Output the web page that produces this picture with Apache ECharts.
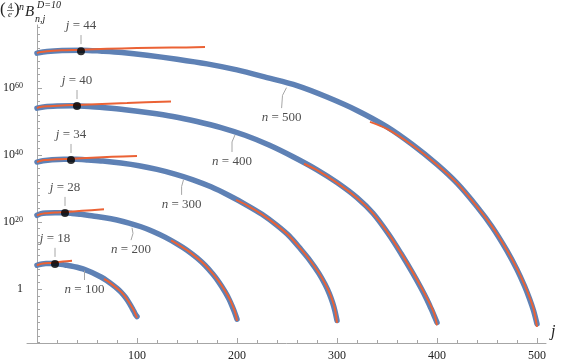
<!DOCTYPE html>
<html lang="en">
<head>
<meta charset="UTF-8">
<title>B n,j</title>
<script src="https://cdn.jsdelivr.net/npm/echarts@6/dist/echarts.min.js"></script>
</head>
<body style="margin:0">
<div id="main" style="width:564px;height:364px;"></div>
<script>
// values are log10 of (4/e)^n B_{n,j}
var xTicks = [100, 200, 300, 400, 500];
var yTicks = [0, 20, 40, 60];

var blue100 = [[0,7.1],[2,7.3],[5,7.5],[9,7.6],[13,7.6],[17,7.6],[22,7.5],[28,7.2],[34,6.9],[40,6.5],[46,6.0],[52,5.3],[58,4.5],[64,3.6],[70,2.5],[75,1.4],[80,0.2],[84,-0.9],[88,-2.3],[91,-3.6],[94,-5.1],[96,-6.2],[97.5,-7.0],[98.5,-7.6],[100,-8.2]];
var blue200 = [[0,22.0],[4,22.5],[10,22.7],[18,22.8],[26,22.8],[34,22.6],[44,22.3],[56,21.8],[68,21.3],[80,20.6],[92,19.7],[104,18.6],[116,17.2],[128,15.5],[140,13.5],[150,11.6],[160,9.3],[168,7.1],[176,4.4],[182,2.0],[188,-0.8],[192,-3.0],[195,-5.0],[197,-6.5],[198.6,-7.8],[200,-9.0]];
var blue300 = [[0,37.9],[6,38.3],[15,38.6],[27,38.7],[39,38.7],[51,38.5],[66,38.2],[84,37.6],[102,36.8],[120,35.7],[138,34.3],[156,32.6],[174,30.5],[192,27.9],[210,25.0],[225,22.3],[240,19.0],[252,15.9],[264,11.8],[273,8.5],[282,4.6],[288,1.4],[292.5,-1.5],[295.5,-4.0],[297.9,-6.5],[300,-9.4]];
var blue400 = [[0,54.0],[8,54.4],[20,54.6],[36,54.7],[52,54.5],[68,54.1],[88,53.5],[112,52.6],[136,51.5],[160,50.0],[184,48.2],[208,45.9],[232,43.0],[256,39.5],[280,35.6],[300,31.8],[320,27.3],[336,22.6],[352,16.2],[364,10.6],[376,4.6],[384,0.3],[390,-3.2],[394,-5.8],[397.2,-8.0],[400,-10.0]];
var blue500 = [[0,70.4],[10,70.9],[25,71.2],[45,71.3],[65,71.0],[85,70.6],[110,69.8],[140,68.6],[170,67.2],[200,65.4],[230,63.1],[260,60.7],[290,57.3],[320,53.3],[350,48.4],[375,43.2],[400,37.2],[420,31.6],[440,24.6],[455,18.6],[470,11.4],[480,5.8],[487.5,0.9],[492.5,-2.9],[496.5,-6.4],[500,-10.4]];

// small-j asymptotics
var orangeStart100 = [[0,7.1],[2,7.35],[6,7.6],[12,7.8],[18,7.95],[26,8.2],[35,8.45]];
var orangeStart200 = [[0,22.0],[3,22.3],[8,22.6],[18,22.85],[28,23.0],[45,23.35],[67,23.8]];
var orangeStart300 = [[0,37.9],[3,38.2],[8,38.5],[20,38.75],[34,38.9],[55,39.2],[75,39.45],[100,39.7]];
var orangeStart400 = [[0,54.0],[3,54.3],[10,54.55],[25,54.8],[40,54.95],[65,55.25],[90,55.5],[134,56.0]];
var orangeStart500 = [[0,70.4],[3,70.7],[10,71.0],[25,71.25],[44,71.4],[70,71.7],[100,71.9],[135,72.05],[168,72.2]];

// j near n asymptotics
var orangeEnd100 = [[67,3.0],[70,2.5],[75,1.4],[80,0.2],[84,-0.8],[88,-2.2],[91,-3.5],[94,-4.9],[96,-5.9],[97.5,-6.8],[98.5,-7.5],[100,-8.6]];
var orangeEnd200 = [[134,14.5],[140,13.5],[150,11.6],[160,9.3],[168,7.2],[176,4.5],[182,2.2],[188,-0.5],[192,-2.6],[195,-4.5],[197,-6.0],[198.6,-7.4],[200,-9.5]];
var orangeEnd300 = [[199,26.6],[210,25.0],[225,22.3],[240,19.0],[252,15.9],[264,11.9],[273,8.6],[282,4.8],[288,1.7],[292.5,-1.1],[295.5,-3.5],[297.9,-5.9],[300,-10.1]];
var orangeEnd400 = [[267,37.4],[280,35.5],[300,31.7],[320,27.2],[336,22.6],[352,16.3],[364,10.8],[376,4.9],[384,0.7],[390,-2.7],[394,-5.1],[397.2,-7.3],[400,-10.8]];
var orangeEnd500 = [[333,49.9],[350,47.8],[375,43.0],[400,37.1],[420,31.6],[440,24.6],[455,18.7],[470,11.6],[480,6.1],[487.5,1.3],[492.5,-2.4],[496.5,-5.8],[500,-11.3]];

var maxJ = [18, 28, 34, 40, 44];
var maxVal = [7.5, 22.7, 38.5, 54.6, 71.0];

var nValues = [100, 200, 300, 400, 500];
var nLeaders = [
    [[47.5,5.5],[47.5,2.7]],
    [[95,18.3],[96,16.6],[94,14.6]],
    [[146.5,32.6],[144.6,30.6],[144.6,28.1]],
    [[198,46.0],[195,43.9],[195,40.9]],
    [[249.5,60.1],[245.5,57.8],[244.6,54.0]]
];

var BLUE = '#5E81B5', ORANGE = '#EB6235', GRAY = '#a6a6a6', TXT = '#222';
var SERIF = '"Liberation Serif", "DejaVu Serif", serif';

var blues = [blue100, blue200, blue300, blue400, blue500];
var oranges = [orangeStart100, orangeStart200, orangeStart300, orangeStart400, orangeStart500,
               orangeEnd100, orangeEnd200, orangeEnd300, orangeEnd400, orangeEnd500];

var xMinor = [], yMinor = [];
for (var t = 20; t <= 500; t += 20) if (t % 100) xMinor.push(t);
for (var u = -16; u <= 78; u += 2) if (u % 20) yMinor.push(u);

var series = [];
blues.forEach(function (d) {
    series.push({ type: 'line', data: d, showSymbol: false, smooth: 0.3, z: 2,
        lineStyle: { color: BLUE, width: 5.5, cap: 'round' } });
});
oranges.forEach(function (d) {
    series.push({ type: 'line', data: d, showSymbol: false, smooth: 0.3, z: 3,
        lineStyle: { color: ORANGE, width: 2 } });
});

// leader lines
var leaderData = [];
maxJ.forEach(function (j, i) {
    leaderData.push({ coords: [[j, maxVal[i] + 2.1], [j, maxVal[i] + 4.8]] });
});
nLeaders.forEach(function (p) { leaderData.push({ coords: p }); });
series.push({ type: 'lines', coordinateSystem: 'cartesian2d', polyline: true, z: 4,
    lineStyle: { color: GRAY, width: 1, opacity: 1 }, data: leaderData });

// maxima
series.push({ type: 'scatter', symbolSize: 8, z: 5, itemStyle: { color: '#000' },
    data: maxJ.map(function (j, i) { return [j, maxVal[i]]; }) });

// labels
var rich = { i: { fontStyle: 'italic', fontFamily: SERIF, fontSize: 13, color: TXT } };
series.push({ type: 'scatter', symbolSize: 0, z: 6, silent: true,
    label: { show: true, position: 'top', distance: 3, fontFamily: SERIF, fontSize: 13, color: TXT, rich: rich,
        formatter: function (p) { return '{i|j} = ' + maxJ[p.dataIndex]; } },
    data: maxJ.map(function (j, i) { return [j, maxVal[i] + 4.8]; }) });
series.push({ type: 'scatter', symbolSize: 0, z: 6, silent: true,
    label: { show: true, position: 'bottom', distance: 3, fontFamily: SERIF, fontSize: 13, color: TXT, rich: rich,
        formatter: function (p) { return '{i|n} = ' + nValues[p.dataIndex]; } },
    data: nLeaders.map(function (p) { return p[p.length - 1]; }) });

var chart = echarts.init(document.getElementById('main'));
chart.setOption({
    animation: false,
    grid: { left: 22, right: 18, top: 25, bottom: 21 },
    xAxis: [{
        type: 'value', min: -10, max: 509,
        name: 'j', nameLocation: 'end', nameGap: 5,
        nameTextStyle: { fontFamily: SERIF, fontStyle: 'italic', fontSize: 16, color: TXT, verticalAlign: 'bottom', padding: [0, 0, 3, 0] },
        axisLine: { onZero: false, lineStyle: { color: GRAY } },
        axisTick: { inside: true, length: 3, customValues: xMinor, lineStyle: { color: GRAY } },
        axisLabel: { customValues: xTicks, margin: 7, fontFamily: SERIF, fontSize: 12, color: TXT },
        splitLine: { show: false }
    }, {
        type: 'value', min: -10, max: 509, position: 'bottom',
        axisLine: { show: false, onZero: false },
        axisTick: { inside: true, length: 5, customValues: xTicks, lineStyle: { color: GRAY } },
        axisLabel: { show: false }, splitLine: { show: false }
    }],
    yAxis: [{
        type: 'value', min: -16.1, max: 78.8,
        axisLine: { onZero: true, lineStyle: { color: GRAY } },
        axisTick: { inside: true, length: 3, customValues: yMinor, lineStyle: { color: GRAY } },
        axisLabel: {
            customValues: yTicks, margin: 4, color: TXT,
            formatter: function (v) { return v === 0 ? '{b|1}' : '{b|10}{s|' + v + '}'; },
            rich: {
                b: { fontFamily: SERIF, fontSize: 12, color: TXT },
                s: { fontFamily: SERIF, fontSize: 8, color: TXT, verticalAlign: 'top' }
            }
        },
        splitLine: { show: false }
    }, {
        type: 'value', min: -16.1, max: 78.8, position: 'left',
        axisLine: { show: false, onZero: true },
        axisTick: { inside: true, length: 5, customValues: yTicks, lineStyle: { color: GRAY } },
        axisLabel: { show: false }, splitLine: { show: false }
    }],
    graphic: [{
        type: 'group', left: 0, top: 0,
        children: [
            { type: 'text', x: 2, y: 1, style: { text: '(', font: '17px ' + SERIF, fill: TXT } },
            { type: 'text', x: 10, y: 2, style: { text: '4', font: '9px ' + SERIF, fill: TXT } },
            { type: 'line', shape: { x1: 9, y1: 10.5, x2: 16, y2: 10.5 }, style: { stroke: TXT, lineWidth: 0.6 } },
            { type: 'text', x: 10, y: 10, style: { text: 'e', font: 'italic 9px ' + SERIF, fill: TXT } },
            { type: 'text', x: 16, y: 1, style: { text: ')', font: '17px ' + SERIF, fill: TXT } },
            { type: 'text', x: 21, y: 2, style: { text: 'n', font: 'italic 10px ' + SERIF, fill: TXT } },
            { type: 'text', x: 27, y: 5, style: { text: 'B', font: 'italic 15px ' + SERIF, fill: TXT } },
            { type: 'text', x: 39, y: 0, style: { text: 'D=10', font: 'italic 10px ' + SERIF, fill: TXT } },
            { type: 'text', x: 37, y: 14, style: { text: 'n,j', font: 'italic 10px ' + SERIF, fill: TXT } }
        ]
    }],
    series: series
});
</script>
</body>
</html>
